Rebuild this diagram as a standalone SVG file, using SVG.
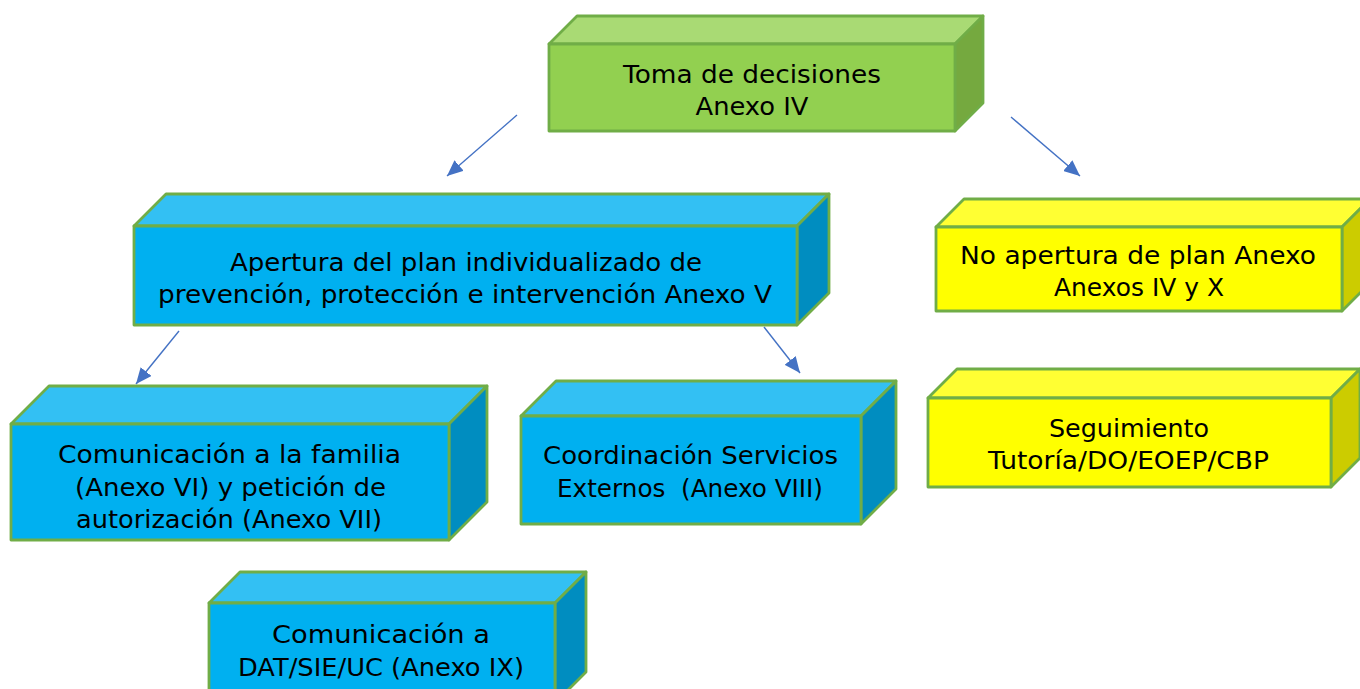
<svg xmlns="http://www.w3.org/2000/svg" width="1360" height="689" viewBox="0 0 1360 689">
<defs>
<style>
.e{stroke:#70AD47;stroke-width:2.8;stroke-linejoin:round}
.gf{fill:#92D050}.gt{fill:#A9DA74}.gs{fill:#75A93F}
.bf{fill:#00B0F0}.bt{fill:#33C0F3}.bs{fill:#008DC0}
.yf{fill:#FFFF00}.yt{fill:#FFFF33}.ys{fill:#CCCC00}
text{font-family:"DejaVu Sans","Liberation Sans",sans-serif;font-size:25px;fill:#000;text-anchor:middle;white-space:pre}
.c{stroke:#4472C4;stroke-width:1.4;fill:none}
</style>
<marker id="ah" markerUnits="userSpaceOnUse" markerWidth="16" markerHeight="14" viewBox="0 0 16 14" refX="16" refY="7" orient="auto">
<path d="M0,0 L16,7 L0,14 z" fill="#4472C4"/>
</marker>
</defs>
<g id="connectors">
<line class="c" x1="517" y1="115" x2="447" y2="176" marker-end="url(#ah)"/>
<line class="c" x1="1011" y1="117" x2="1080" y2="176" marker-end="url(#ah)"/>
<line class="c" x1="179" y1="331" x2="136" y2="384" marker-end="url(#ah)"/>
<line class="c" x1="764" y1="327" x2="800" y2="373" marker-end="url(#ah)"/>
</g>
<g id="toma">
<polygon class="e gt" points="549,44 577,16 983,16 955,44"/>
<polygon class="e gs" points="955,44 983,16 983,103 955,131"/>
<rect class="e gf" x="549" y="44" width="406" height="87"/>
<text x="752" y="83" textLength="258" lengthAdjust="spacingAndGlyphs">Toma de decisiones</text>
<text x="752" y="115" textLength="113" lengthAdjust="spacingAndGlyphs">Anexo IV</text>
</g>
<g id="apertura">
<polygon class="e bt" points="134,226 166,194 829,194 797,226"/>
<polygon class="e bs" points="797,226 829,194 829,293 797,325"/>
<rect class="e bf" x="134" y="226" width="663" height="99"/>
<text x="466" y="271" textLength="472" lengthAdjust="spacingAndGlyphs">Apertura del plan individualizado de</text>
<text x="465" y="303" textLength="614" lengthAdjust="spacingAndGlyphs">prevención, protección e intervención Anexo V</text>
</g>
<g id="noapertura">
<polygon class="e yt" points="936,227 964,199 1370,199 1342,227"/>
<polygon class="e ys" points="1342,227 1370,199 1370,283 1342,311"/>
<rect class="e yf" x="936" y="227" width="406" height="84"/>
<text x="1138" y="264" textLength="356" lengthAdjust="spacingAndGlyphs">No apertura de plan Anexo</text>
<text x="1139" y="296" textLength="170" lengthAdjust="spacingAndGlyphs">Anexos IV y X</text>
</g>
<g id="seguimiento">
<polygon class="e yt" points="928,398 957,369 1360,369 1331,398"/>
<polygon class="e ys" points="1331,398 1360,369 1360,458 1331,487"/>
<rect class="e yf" x="928" y="398" width="403" height="89"/>
<text x="1129" y="437" textLength="160" lengthAdjust="spacingAndGlyphs">Seguimiento</text>
<text x="1128.5" y="469" textLength="281" lengthAdjust="spacingAndGlyphs">Tutoría/DO/EOEP/CBP</text>
</g>
<g id="familia">
<polygon class="e bt" points="11,424 49,386 487,386 449,424"/>
<polygon class="e bs" points="449,424 487,386 487,502 449,540"/>
<rect class="e bf" x="11" y="424" width="438" height="116"/>
<text x="229.5" y="463" textLength="343" lengthAdjust="spacingAndGlyphs">Comunicación a la familia</text>
<text x="230.5" y="496" textLength="311" lengthAdjust="spacingAndGlyphs">(Anexo VI) y petición de</text>
<text x="229" y="528" textLength="306" lengthAdjust="spacingAndGlyphs">autorización (Anexo VII)</text>
</g>
<g id="coordinacion">
<polygon class="e bt" points="521,416 556,381 896,381 861,416"/>
<polygon class="e bs" points="861,416 896,381 896,489 861,524"/>
<rect class="e bf" x="521" y="416" width="340" height="108"/>
<text x="690.5" y="464" textLength="295" lengthAdjust="spacingAndGlyphs">Coordinación Servicios</text>
<text x="690" y="497" textLength="266" lengthAdjust="spacingAndGlyphs">Externos  (Anexo VIII)</text>
</g>
<g id="dat">
<polygon class="e bt" points="209,603 240,572 586,572 555,603"/>
<polygon class="e bs" points="555,603 586,572 586,672 555,703"/>
<rect class="e bf" x="209" y="603" width="346" height="100"/>
<text x="381" y="643" textLength="218" lengthAdjust="spacingAndGlyphs">Comunicación a</text>
<text x="381" y="676" textLength="286" lengthAdjust="spacingAndGlyphs">DAT/SIE/UC (Anexo IX)</text>
</g>
</svg>
